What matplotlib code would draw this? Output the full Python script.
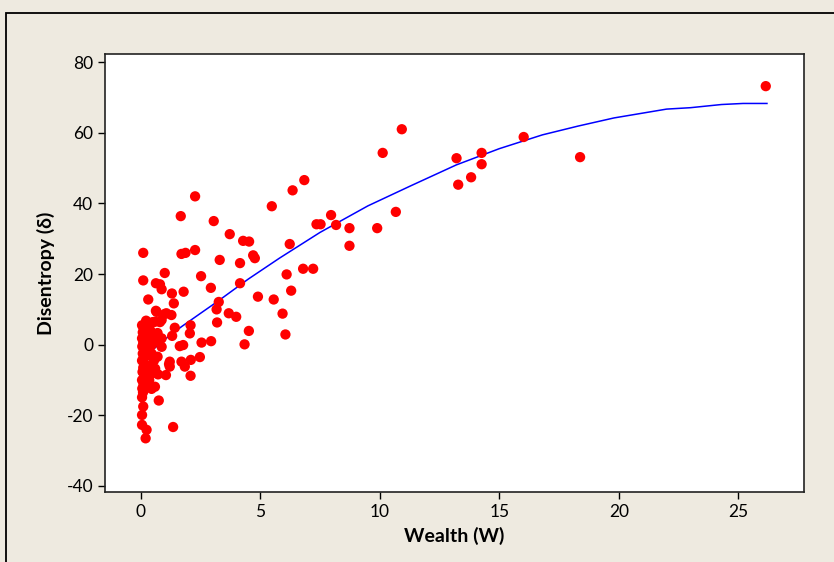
import numpy as np
import matplotlib
matplotlib.use("Agg")
import matplotlib.pyplot as plt
from matplotlib.patches import Rectangle

# scatter points: wealth (W) and disentropy
wealth = [26.15, 18.38, 16.02, 14.26, 14.26, 13.21, 13.28, 13.82, 10.92, 10.12,
          10.67, 9.89, 8.73, 8.73, 8.17, 7.96, 7.35, 7.52, 7.21, 6.79,
          6.84, 6.35, 6.29, 6.23, 6.10, 6.05, 5.93, 5.48, 5.56, 4.90,
          4.77, 4.70, 4.53, 4.28, 4.52, 4.34, 4.15, 4.15, 3.99, 3.72,
          3.68, 3.30, 3.26, 3.17, 3.19, 3.05, 2.93, 2.94, 2.52, 2.54,
          2.47, 2.27, 2.27, 2.08, 2.05, 2.09, 2.08, 1.84, 1.70, 1.67,
          1.87, 1.70, 1.79, 1.63, 1.77, 1.42, 1.31, 1.38, 1.30, 1.35,
          1.21, 1.21, 1.05, 0.72, 0.75, 0.59, 1.00, 0.63, 0.80, 0.87,
          0.10, 0.10, 0.31, 1.07, 1.28, 0.66, 0.87, 0.59, 0.28, 0.22,
          0.50, 0.80, 0.63, 1.00, 0.66, 0.87, 0.45, 0.70, 0.87, 0.46,
          0.70, 1.18, 0.35, 0.40, 0.50, 0.35, 0.45, 0.30, 0.55, 0.40,
          0.55, 0.30, 0.45, 0.60, 0.05, 0.12, 0.08, 0.15, 0.05, 0.20,
          0.10, 0.06, 0.18, 0.08, 0.12, 0.05, 0.15, 0.10, 0.07, 0.14,
          0.05, 0.11, 0.06, 0.09, 0.05, 0.10, 0.05, 0.24, 0.05, 0.20,
          0.25, 0.30, 0.18, 0.35]
disentropy = [73.2, 53.1, 58.8, 54.3, 51.1, 52.8, 45.3, 47.4, 61.0, 54.3,
              37.6, 33.0, 33.0, 28.0, 33.9, 36.7, 34.1, 34.1, 21.5, 21.5,
              46.6, 43.7, 15.3, 28.5, 19.9, 2.9, 8.8, 39.2, 12.8, 13.6,
              24.5, 25.3, 29.2, 29.4, 3.9, 0.1, 17.4, 23.1, 7.9, 31.3,
              8.9, 24.0, 12.1, 10.0, 6.3, 35.0, 16.1, 1.0, 19.4, 0.6,
              -3.5, 42.0, 26.8, 5.5, 3.2, -4.3, -8.8, -6.2, -4.8, 36.4,
              26.0, 25.7, 15.0, -0.4, -0.1, 4.8, 2.5, 11.7, 14.5, -23.3,
              -4.8, -6.2, -8.6, -8.4, -15.8, -11.9, 20.3, 17.4, 17.1, 15.7,
              26.0, 18.2, 12.8, 8.9, 8.4, 9.3, 7.0, 6.5, 6.1, 6.8,
              6.4, 6.4, 9.6, 8.7, 1.3, 1.8, 2.7, 3.3, -0.6, 0.0,
              -3.4, -5.5, -1.0, -6.0, -8.0, -10.0, -12.5, -3.0, -4.5, 4.0,
              0.8, 1.5, -2.5, -6.8, 5.5, 4.5, 3.5, 2.7, 1.8, 1.0,
              0.5, -0.5, -1.5, -2.5, -3.5, -4.5, -5.3, -6.5, -7.7, -9.0,
              -10.0, -11.2, -12.4, -13.5, -14.9, -17.5, -19.9, -24.1, -22.7, -26.5,
              -1.0, -7.0, -9.5, -12.0]

# smoothed fit line
fit_x = [0.3, 1.0, 1.7, 2.5, 3.2, 4.5, 5.8, 7.5, 9.5, 11.3,
         13.2, 15.0, 16.8, 18.3, 19.8, 22.0, 23.0, 24.3, 25.2, 26.2]
fit_y = [-2.6, 1.5, 5.1, 8.9, 12.2, 18.6, 24.5, 31.8, 39.3, 45.0,
         50.9, 55.5, 59.4, 61.9, 64.2, 66.7, 67.1, 68.0, 68.3, 68.3]

x_ticks = [0, 5, 10, 15, 20, 25]
y_ticks = [-40, -20, 0, 20, 40, 60, 80]

plt.rcParams['font.family'] = ['Lato', 'DejaVu Sans']
plt.rcParams['axes.unicode_minus'] = False

bg = '#eeeae0'
fig = plt.figure(figsize=(8.34, 5.62), dpi=100, facecolor=bg)
# outer frame of the graph window
fig.patches.append(Rectangle((6 / 834, -0.05), 1.2, 1 - 13 / 562 + 0.05,
                             transform=fig.transFigure, fill=False,
                             edgecolor='black', linewidth=1.3))

ax = fig.add_axes([105 / 834, 1 - 492 / 562, 699 / 834, 438 / 562])
ax.set_facecolor('white')

ax.plot(fit_x, fit_y, color='#0000ff', linewidth=1.1, zorder=2)
ax.scatter(wealth, disentropy, s=55, color='#ff0000', edgecolors='none', zorder=3)

ax.set_xlim(-1.5, 27.75)
ax.set_ylim(-41.7, 82.3)
ax.set_xticks(x_ticks)
ax.set_yticks(y_ticks)
ax.tick_params(direction='out', length=5, width=1, labelsize=12.5, colors='black')
for s in ax.spines.values():
    s.set_color('#222222')
    s.set_linewidth(1.2)

ax.set_xlabel('Wealth (W)', fontsize=14, fontweight='bold', labelpad=5)
ax.set_ylabel('Disentropy (δ)', fontsize=14, fontweight='bold', labelpad=8)

fig.savefig('out.png', dpi=100, facecolor=bg)
